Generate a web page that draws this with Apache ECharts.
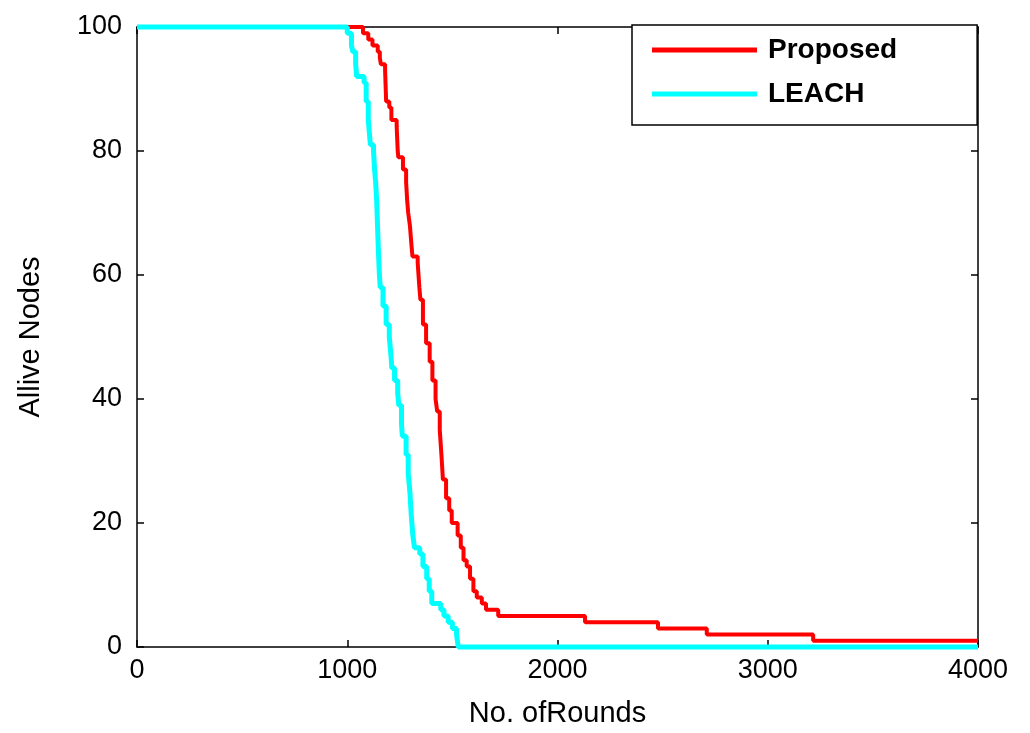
<!DOCTYPE html>
<html>
<head>
<meta charset="utf-8">
<script src="https://cdn.jsdelivr.net/npm/echarts@6/dist/echarts.min.js"></script>
<style>
html,body{margin:0;padding:0;background:#fff;}
#chart{width:1030px;height:733px;}
</style>
</head>
<body>
<div id="chart"></div>
<script>
// Data (rounds, alive nodes); each point holds its value until the next one
var seriesNames = ['Proposed', 'LEACH'];
var proposedData = [
  [0,100],[1075,99],[1100,98],[1120,97],[1145,96],[1155,95],[1160,94],[1180,93],[1183,90],[1185,88],
  [1200,87],[1210,85],[1235,84],[1240,80],[1243,79],[1265,77],[1280,75],[1285,72],[1290,70],[1298,68],
  [1305,65],[1310,63],[1335,62],[1343,58],[1348,56],[1360,52],[1375,49],[1392,46],[1405,43],[1420,40],
  [1428,38],[1440,35],[1448,31],[1455,27],[1470,24],[1485,22],[1497,20],[1525,18],[1540,16],[1553,14],
  [1568,13],[1584,11],[1600,9],[1616,8],[1640,7],[1660,6],[1718,5],[2131,4],[2478,3],[2710,2],
  [3216,1],[4000,1]
];
var leachData = [
  [0,100],[1000,99],[1020,97],[1027,96],[1040,94],[1045,92],[1080,91],[1090,88],[1100,85],[1105,83],
  [1110,81],[1125,80],[1130,77],[1135,75],[1140,72],[1145,67],[1148,64],[1153,60],[1157,58],[1170,55],
  [1185,52],[1200,50],[1208,47],[1212,45],[1225,43],[1240,41],[1245,39],[1258,36],[1262,34],[1280,31],
  [1290,28],[1298,25],[1305,21],[1312,18],[1320,16],[1345,15],[1360,13],[1378,11],[1390,9],[1402,7],
  [1445,6],[1460,5],[1480,4],[1500,3],[1520,2],[1528,0],[4000,0]
];
var xName = 'No. ofRounds';
var yName = 'Allive Nodes';
var xMin = 0, xMax = 4000, xStep = 1000;
var yMin = 0, yMax = 100, yStep = 20;

var font = "'Liberation Sans', Arial, Helvetica, sans-serif";
var axisLine = {show: true, onZero: false, lineStyle: {color: '#000', width: 1.5}};
var tick = {show: true, inside: true, length: 7, lineStyle: {color: '#000', width: 1.5}};
var plain = function (v) { return String(v); };
var label = {color: '#000', fontSize: 27, fontFamily: font, formatter: plain};

var chart = echarts.init(document.getElementById('chart'), null, {renderer: 'canvas'});
chart.setOption({
  backgroundColor: '#fff',
  animation: false,
  grid: {left: 137, right: 52, top: 27, bottom: 84, containLabel: false},
  legend: {
    data: seriesNames,
    orient: 'vertical',
    icon: 'rect',
    left: 632, top: 25,
    padding: [11, 80, 17, 20],
    itemWidth: 105, itemHeight: 5, itemGap: 16,
    borderColor: '#000', borderWidth: 1.5, borderRadius: 0,
    backgroundColor: '#fff',
    textStyle: {color: '#000', fontSize: 28, fontWeight: 'bold', fontFamily: font, padding: [0,0,0,6]},
    selectedMode: false
  },
  xAxis: [{
    type: 'value', min: xMin, max: xMax, interval: xStep, position: 'bottom',
    name: xName, nameLocation: 'middle', nameGap: 52,
    nameTextStyle: {color: '#000', fontSize: 29, fontFamily: font},
    axisLine: axisLine, axisTick: tick, splitLine: {show: false},
    axisLabel: Object.assign({margin: 10}, label)
  }, {
    type: 'value', min: xMin, max: xMax, interval: xStep, position: 'top',
    axisLine: axisLine, axisTick: tick, splitLine: {show: false}, axisLabel: {show: false}
  }],
  yAxis: [{
    type: 'value', min: yMin, max: yMax, interval: yStep, position: 'left',
    name: yName, nameLocation: 'middle', nameGap: 92,
    nameTextStyle: {color: '#000', fontSize: 29, fontFamily: font},
    axisLine: axisLine, axisTick: tick, splitLine: {show: false},
    axisLabel: Object.assign({margin: 15}, label)
  }, {
    type: 'value', min: yMin, max: yMax, interval: yStep, position: 'right',
    axisLine: axisLine, axisTick: tick, splitLine: {show: false}, axisLabel: {show: false}
  }],
  series: [{
    name: seriesNames[0], type: 'line', step: 'end', data: proposedData,
    symbol: 'none', clip: false, z: 3,
    itemStyle: {color: '#ff0000'},
    lineStyle: {color: '#ff0000', width: 4}
  }, {
    name: seriesNames[1], type: 'line', step: 'end', data: leachData,
    symbol: 'none', clip: false, z: 4,
    itemStyle: {color: '#00ffff'},
    lineStyle: {color: '#00ffff', width: 5}
  }]
});
</script>
</body>
</html>
